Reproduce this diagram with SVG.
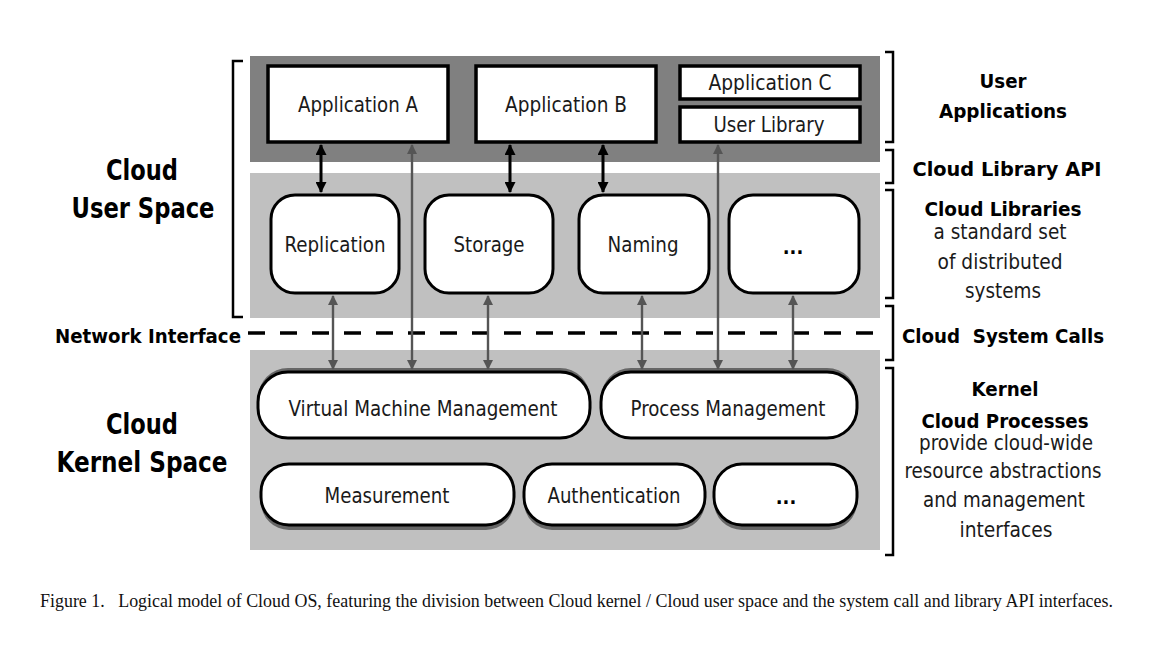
<svg xmlns="http://www.w3.org/2000/svg" width="1152" height="648" viewBox="0 0 1152 648">
<style>
.lbl{font-family:"DejaVu Sans Condensed","DejaVu Sans",sans-serif;font-size:22px;fill:#1a1a1a;text-anchor:middle}
.bold{font-family:"DejaVu Sans Condensed","DejaVu Sans",sans-serif;font-weight:bold;fill:#000;text-anchor:middle}
.side{font-family:"DejaVu Sans Condensed","DejaVu Sans",sans-serif;font-size:21px;fill:#1a1a1a;text-anchor:middle}
.box{fill:#fff;stroke:#000;stroke-width:3.5}
.rbox{fill:#fff;stroke:#000;stroke-width:3}
.shadow{fill:#666}
.brk{fill:none;stroke:#000;stroke-width:2.5}
.barr{stroke:#000;stroke-width:3;fill:none}
.garr{stroke:#555;stroke-width:2.4;fill:none}
</style>
<defs>
<marker id="hb" viewBox="0 0 10 10" refX="9" refY="5" markerUnits="userSpaceOnUse" markerWidth="12" markerHeight="11" orient="auto-start-reverse"><path d="M0,0 L10,5 L0,10 z" fill="#000"/></marker>
<marker id="hg" viewBox="0 0 10 10" refX="9" refY="5" markerUnits="userSpaceOnUse" markerWidth="12" markerHeight="10" orient="auto-start-reverse"><path d="M0,0 L10,5 L0,10 z" fill="#555"/></marker>
</defs>
<rect width="1152" height="648" fill="#fff"/>

<g id="bands">
<rect x="250" y="56" width="630" height="106" fill="#808080"/>
<rect x="250" y="173" width="630" height="145" fill="#c0c0c0"/>
<rect x="250" y="350" width="630" height="200" fill="#c0c0c0"/>
</g>

<g id="network-interface-line">
<line x1="248" y1="333" x2="882" y2="333" stroke="#000" stroke-width="3.5" stroke-dasharray="17 15"/>
</g>

<g id="app-a"><rect class="box" x="268" y="66" width="180" height="76"/><text class="lbl" x="358" y="112" textLength="120" lengthAdjust="spacingAndGlyphs">Application A</text></g>
<g id="app-b"><rect class="box" x="476" y="66" width="180" height="76"/><text class="lbl" x="566" y="112" textLength="122" lengthAdjust="spacingAndGlyphs">Application B</text></g>
<g id="app-c"><rect class="box" x="680" y="66" width="180" height="33"/><text class="lbl" x="770" y="90" textLength="123" lengthAdjust="spacingAndGlyphs">Application C</text></g>
<g id="user-library"><rect class="box" x="680" y="107" width="180" height="35"/><text class="lbl" x="769" y="132" textLength="111" lengthAdjust="spacingAndGlyphs">User Library</text></g>

<g id="replication"><rect class="rbox" x="271" y="195" width="128" height="98" rx="24"/><text class="lbl" x="335" y="252" textLength="101" lengthAdjust="spacingAndGlyphs">Replication</text></g>
<g id="storage"><rect class="rbox" x="425" y="195" width="128" height="98" rx="24"/><text class="lbl" x="489" y="252" textLength="71" lengthAdjust="spacingAndGlyphs">Storage</text></g>
<g id="naming"><rect class="rbox" x="579" y="195" width="130" height="98" rx="24"/><text class="lbl" x="643" y="252" textLength="71" lengthAdjust="spacingAndGlyphs">Naming</text></g>
<g id="lib-more"><rect class="rbox" x="729" y="195" width="130" height="98" rx="24"/><text class="bold" x="793" y="254" font-size="20">...</text></g>

<g id="vm-management"><rect class="shadow" x="258" y="368" width="332" height="68" rx="30"/><rect class="rbox" x="258" y="372" width="332" height="66" rx="30"/><text class="lbl" x="423" y="416" textLength="269" lengthAdjust="spacingAndGlyphs">Virtual Machine Management</text></g>
<g id="process-management"><rect class="shadow" x="601" y="368" width="256" height="68" rx="30"/><rect class="rbox" x="601" y="372" width="256" height="66" rx="30"/><text class="lbl" x="728" y="416" textLength="195" lengthAdjust="spacingAndGlyphs">Process Management</text></g>
<g id="measurement"><rect class="shadow" x="261" y="466" width="253" height="64" rx="28"/><rect class="rbox" x="261" y="464" width="253" height="61" rx="28"/><text class="lbl" x="387" y="503" textLength="125" lengthAdjust="spacingAndGlyphs">Measurement</text></g>
<g id="authentication"><rect class="shadow" x="524" y="466" width="181" height="64" rx="28"/><rect class="rbox" x="524" y="464" width="181" height="61" rx="28"/><text class="lbl" x="614" y="503" textLength="133" lengthAdjust="spacingAndGlyphs">Authentication</text></g>
<g id="kernel-more"><rect class="shadow" x="714" y="466" width="143" height="64" rx="28"/><rect class="rbox" x="714" y="464" width="143" height="61" rx="28"/><text class="bold" x="786" y="504" font-size="20">...</text></g>

<g id="connectors">
<line class="barr" x1="321" y1="145" x2="321" y2="192" marker-start="url(#hb)" marker-end="url(#hb)"/>
<line class="barr" x1="510" y1="145" x2="510" y2="192" marker-start="url(#hb)" marker-end="url(#hb)"/>
<line class="barr" x1="603" y1="145" x2="603" y2="192" marker-start="url(#hb)" marker-end="url(#hb)"/>
<line class="garr" x1="412" y1="145" x2="412" y2="369" marker-start="url(#hg)" marker-end="url(#hg)"/>
<line class="garr" x1="718" y1="145" x2="718" y2="369" marker-start="url(#hg)" marker-end="url(#hg)"/>
<line class="garr" x1="333" y1="296" x2="333" y2="369" marker-start="url(#hg)" marker-end="url(#hg)"/>
<line class="garr" x1="488" y1="296" x2="488" y2="369" marker-start="url(#hg)" marker-end="url(#hg)"/>
<line class="garr" x1="642" y1="296" x2="642" y2="369" marker-start="url(#hg)" marker-end="url(#hg)"/>
<line class="garr" x1="793" y1="296" x2="793" y2="369" marker-start="url(#hg)" marker-end="url(#hg)"/>
</g>

<g id="brackets">
<path class="brk" d="M243,61 H233 V317 H243"/>
<path class="brk" d="M885,52 H893 V142 H885"/>
<path class="brk" d="M885,150 H893 V183 H885"/>
<path class="brk" d="M885,190 H893 V298 H885"/>
<path class="brk" d="M885,306 H893 V360 H885"/>
<path class="brk" d="M885,368 H893 V555 H885"/>
</g>

<g id="left-labels">
<text class="bold" x="142" y="180" font-size="28" textLength="72" lengthAdjust="spacingAndGlyphs">Cloud</text>
<text class="bold" x="143" y="218" font-size="28" textLength="143" lengthAdjust="spacingAndGlyphs">User Space</text>
<text class="bold" x="148" y="343" font-size="19" textLength="186" lengthAdjust="spacingAndGlyphs">Network Interface</text>
<text class="bold" x="142" y="434" font-size="28" textLength="72" lengthAdjust="spacingAndGlyphs">Cloud</text>
<text class="bold" x="142" y="472" font-size="28" textLength="171" lengthAdjust="spacingAndGlyphs">Kernel Space</text>
</g>

<g id="right-labels">
<text class="bold" x="1003" y="88" font-size="20" textLength="47" lengthAdjust="spacingAndGlyphs">User</text>
<text class="bold" x="1003" y="118" font-size="20" textLength="128" lengthAdjust="spacingAndGlyphs">Applications</text>
<text class="bold" x="1007" y="176" font-size="20" textLength="189" lengthAdjust="spacingAndGlyphs">Cloud Library API</text>
<text class="bold" x="1003" y="216" font-size="20" textLength="157" lengthAdjust="spacingAndGlyphs">Cloud Libraries</text>
<text class="side" x="1000" y="239" textLength="133" lengthAdjust="spacingAndGlyphs">a standard set</text>
<text class="side" x="1000" y="269" textLength="125" lengthAdjust="spacingAndGlyphs">of distributed</text>
<text class="side" x="1003" y="298" textLength="76" lengthAdjust="spacingAndGlyphs">systems</text>
<text class="bold" x="1003" y="343" font-size="20" textLength="202" lengthAdjust="spacingAndGlyphs" xml:space="preserve">Cloud  System Calls</text>
<text class="bold" x="1005" y="396" font-size="20" textLength="67" lengthAdjust="spacingAndGlyphs">Kernel</text>
<text class="bold" x="1005" y="428" font-size="20" textLength="167" lengthAdjust="spacingAndGlyphs">Cloud Processes</text>
<text class="side" x="1006" y="450" textLength="174" lengthAdjust="spacingAndGlyphs">provide cloud-wide</text>
<text class="side" x="1003" y="478" textLength="197" lengthAdjust="spacingAndGlyphs">resource abstractions</text>
<text class="side" x="1004" y="507" textLength="162" lengthAdjust="spacingAndGlyphs">and management</text>
<text class="side" x="1006" y="537" textLength="93" lengthAdjust="spacingAndGlyphs">interfaces</text>
</g>

<text x="40" y="607" font-family="'Liberation Serif','Times New Roman',serif" font-size="18.5" fill="#111" textLength="1073" lengthAdjust="spacingAndGlyphs" xml:space="preserve">Figure 1.   Logical model of Cloud OS, featuring the division between Cloud kernel / Cloud user space and the system call and library API interfaces.</text>
</svg>
